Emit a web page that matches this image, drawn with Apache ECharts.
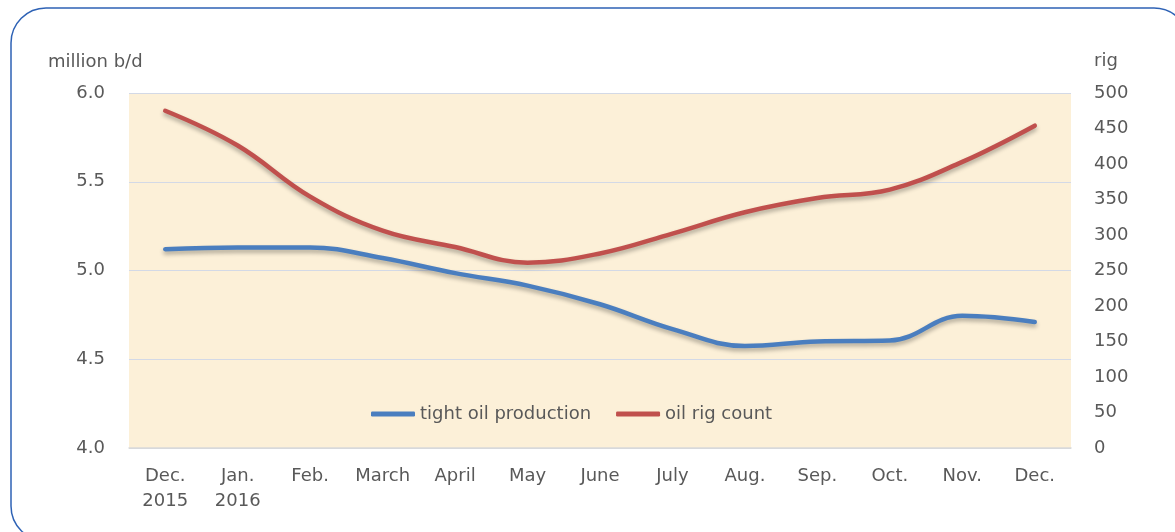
<!DOCTYPE html>
<html>
<head>
<meta charset="utf-8">
<script src="https://cdn.jsdelivr.net/npm/echarts@6/dist/echarts.min.js"></script>
<style>
  html, body { margin: 0; padding: 0; background: #fff; }
  #main { width: 1175px; height: 532px; }
</style>
</head>
<body>
<div id="main"></div>
<script>
// 月份
var months = ['Dec.\n2015', 'Jan.\n2016', 'Feb.', 'March', 'April', 'May', 'June', 'July', 'Aug.', 'Sep.', 'Oct.', 'Nov.', 'Dec.'];
// tight oil production, million b/d
var tightOil = [5.12, 5.13, 5.13, 5.07, 4.985, 4.915, 4.81, 4.67, 4.575, 4.60, 4.605, 4.745, 4.71];
// oil rig count
var rigCount = [475, 426, 354, 306, 283, 261, 274, 302, 332, 352, 364, 403, 454];
// 刻度
var leftTicks = [4.0, 6.0, 0.5];
var rightTicks = [0, 500, 50];

var textColor = '#595959';
var font = '"DejaVu Sans", "Open Sans", sans-serif';

var chart = echarts.init(document.getElementById('main'));
var option = {
    backgroundColor: '#fff',
    animation: false,
    textStyle: { fontFamily: font },
    graphic: [{
        type: 'rect',
        shape: { x: 11, y: 8, width: 1178, height: 533, r: 35 },
        style: { fill: 'none', stroke: '#2e62b5', lineWidth: 1.5 },
        z: 0
    }, {
        type: 'text',
        left: 48, top: 53,
        style: { text: 'million b/d', fill: textColor, font: '18px ' + font }
    }, {
        type: 'text',
        left: 1094, top: 52,
        style: { text: 'rig', fill: textColor, font: '18px ' + font }
    }],
    grid: {
        left: 129, right: 104, top: 93, bottom: 84,
        show: true,
        backgroundColor: '#fcf0d8',
        borderWidth: 0
    },
    legend: {
        left: 366, top: 400,
        itemWidth: 44, itemHeight: 5,
        itemGap: 25,
        icon: 'roundRect',
        textStyle: { color: textColor, fontSize: 18, fontFamily: font },
        data: ['tight oil production', 'oil rig count']
    },
    xAxis: {
        type: 'category',
        data: months,
        boundaryGap: true,
        axisLine: { lineStyle: { color: '#d9d9d9', width: 1.5 } },
        axisTick: { show: false },
        axisLabel: { color: textColor, fontSize: 18, margin: 16, lineHeight: 25, interval: 0 }
    },
    yAxis: [{
        type: 'value',
        min: leftTicks[0], max: leftTicks[1], interval: leftTicks[2],
        axisLine: { show: false },
        axisTick: { show: false },
        splitLine: { lineStyle: { color: '#d3d9e6', width: 1 } },
        axisLabel: { color: textColor, fontSize: 18, margin: 24,
            formatter: function (v) { return v.toFixed(1); } }
    }, {
        type: 'value',
        min: rightTicks[0], max: rightTicks[1], interval: rightTicks[2],
        axisLine: { show: false },
        axisTick: { show: false },
        splitLine: { show: false },
        axisLabel: { color: textColor, fontSize: 18, margin: 23, align: 'left' }
    }],
    series: [{
        name: 'tight oil production',
        type: 'line',
        yAxisIndex: 0,
        data: tightOil,
        smooth: 0.4,
        symbol: 'none',
        color: '#4a7ebf',
        lineStyle: { width: 4.5, color: '#4a7ebf', cap: 'round',
            shadowColor: 'rgba(0,0,0,0.3)', shadowBlur: 4, shadowOffsetY: 3 }
    }, {
        name: 'oil rig count',
        type: 'line',
        yAxisIndex: 1,
        data: rigCount,
        smooth: 0.4,
        symbol: 'none',
        color: '#c0504d',
        lineStyle: { width: 4.5, color: '#c0504d', cap: 'round',
            shadowColor: 'rgba(0,0,0,0.3)', shadowBlur: 4, shadowOffsetY: 3 }
    }]
};
chart.setOption(option);
</script>
</body>
</html>
